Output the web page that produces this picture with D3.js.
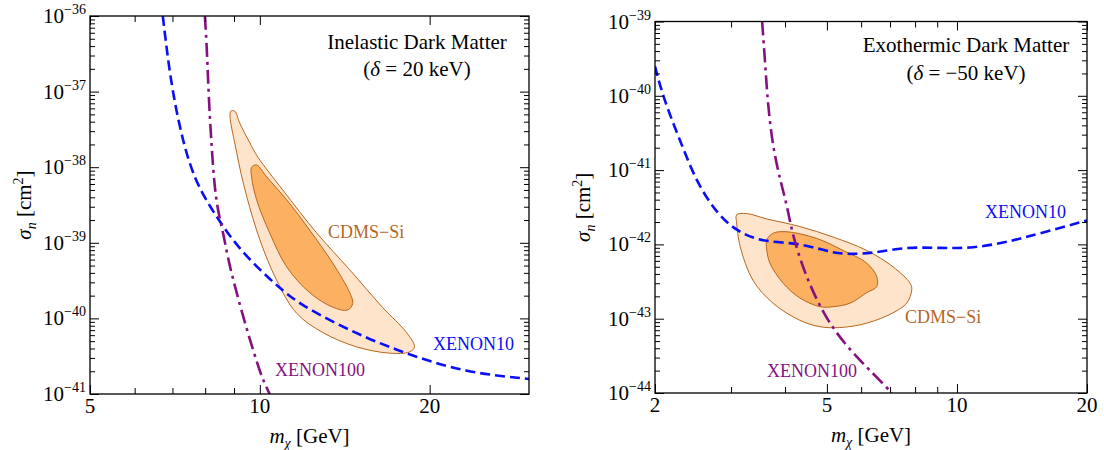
<!DOCTYPE html>
<html>
<head>
<meta charset="utf-8">
<script src="https://cdn.jsdelivr.net/npm/d3@7"></script>
<style>
  body { margin: 0; background: #fff; }
  text { font-family: "Liberation Serif", "Times New Roman", serif; }
</style>
</head>
<body>
<svg id="chart" width="1104" height="450" font-family="Liberation Serif, Times New Roman, serif"></svg>
<script>
// ---- Data: [mass GeV, sigma cm^2] ----

// Inelastic panel
const inelOuter = [[8.88,5.5e-38],[9.03,5.5e-38],[9.21,3.85e-38],[9.60,2.1e-38],[9.92,1.36e-38],
  [10.98,5.0e-39],[12.61,1.35e-39],[14.43,4.4e-40],[16.50,1.4e-40],[18.20,6.5e-41],[18.80,4.2e-41],
  [18.42,3.6e-41],[16.98,3.47e-41],[14.85,4.2e-41],[12.93,6.5e-41],[11.62,1.17e-40],[10.71,3.2e-40],
  [10.0,1.1e-39],[9.48,4.1e-39],[9.10,1.55e-38]];
const inelInner = [[9.67,1.0e-38],[9.87,1.07e-38],[10.29,7.4e-39],[11.16,3.7e-39],[12.25,1.48e-39],
  [13.46,5.4e-40],[14.43,2.2e-40],[14.61,1.58e-40],[14.31,1.29e-40],[13.46,1.41e-40],[12.25,2.2e-40],
  [11.16,4.8e-40],[10.41,1.35e-39],[9.87,3.7e-39],[9.67,7.4e-39]];
const inelXenon10 = [[6.73,1e-36],[6.84,3.55e-37],[7.01,9.5e-38],[7.31,2.1e-38],[7.67,6.8e-39],
  [8.16,3.0e-39],[8.67,1.52e-39],[9.21,8.3e-40],[10.0,4.4e-40],[10.85,2.5e-40],[11.77,1.55e-40],
  [13.46,9.0e-41],[15.46,5.5e-41],[17.69,3.7e-41],[20.2,2.65e-41],[23.2,2.0e-41],[26.6,1.73e-41],
  [30,1.58e-41]];
const inelXenon100 = [[7.99,1e-36],[8.06,3.55e-37],[8.12,7.8e-38],[8.22,1.7e-38],[8.32,5.0e-39],
  [8.46,2.3e-39],[8.63,1.26e-39],[8.77,6.5e-40],[8.99,3.0e-40],[9.48,7.1e-41],[9.92,2.4e-41],
  [10.12,1.55e-41],[10.41,1e-41]];

// Exothermic panel
const exoOuter = [[3.09,2.5e-42],[3.26,2.6e-42],[3.63,2.2e-42],[4.33,1.74e-42],[5.16,1.26e-42],
  [6.18,8.3e-43],[7.11,5.0e-43],[7.79,3.0e-43],[7.86,2.45e-43],[7.65,1.62e-43],[7.11,1.2e-43],
  [6.18,8.7e-44],[5.36,7.6e-44],[4.82,7.8e-44],[4.33,9.5e-44],[3.75,1.62e-43],[3.37,3.3e-43],
  [3.15,9.3e-43],[3.09,1.95e-42]];
const exoInner = [[3.63,1.15e-42],[3.75,1.41e-42],[4.04,1.48e-42],[4.74,1.2e-42],[5.45,8.3e-43],
  [6.18,5.6e-43],[6.52,3.7e-43],[6.52,2.7e-43],[6.18,2.24e-43],[5.66,1.62e-43],[5.16,1.45e-43],
  [4.82,1.45e-43],[4.33,1.9e-43],[3.96,3.0e-43],[3.69,5.6e-43],[3.63,8.3e-43]];
const exoXenon10 = [[2.0,2.5e-40],[2.09,9.3e-41],[2.32,2.0e-41],[2.50,6.8e-42],[2.78,2.6e-42],
  [3.10,1.48e-42],[3.56,1.07e-42],[4.33,1.05e-42],[5.16,7.6e-43],[5.66,7.4e-43],[6.39,7.6e-43],
  [7.66,9.3e-43],[9.13,8.9e-43],[10.89,8.9e-43],[13.06,1.07e-42],[15.57,1.41e-42],[20,2.1e-42]];
const exoXenon100 = [[3.54,1e-39],[3.60,2.6e-40],[3.65,7.6e-41],[3.75,2.0e-41],[3.91,6.8e-42],
  [4.04,3.4e-42],[4.17,1.26e-42],[4.50,3.3e-43],[5.00,9.5e-44],[5.57,4.2e-44],[6.19,2.2e-44],
  [6.63,1.48e-44],[7.07,1e-44]];

// Ticks
const inelXMajor = [5, 10, 20];
const inelXMinor = [6, 7, 8, 9];
const inelYExp = [-41, -40, -39, -38, -37, -36];
const exoXMajor = [2, 5, 10, 20];
const exoXMinor = [3, 4, 6, 7, 8, 9];
const exoYExp = [-44, -43, -42, -41, -40, -39];

const svg = d3.select("#chart");

const BLUE = "#0a0ff5", PURPLE = "#85117f", BROWN = "#b8661f";

function drawPanel(p) {
  const x = d3.scaleLog().domain(p.xDomain).range([p.left, p.right]);
  const y = d3.scaleLog().domain(p.yDomain).range([p.bottom, p.top]);
  const g = svg.append("g");

  const clipId = "clip-" + p.id;
  g.append("clipPath").attr("id", clipId).append("rect")
      .attr("x", p.left).attr("y", p.top)
      .attr("width", p.right - p.left).attr("height", p.bottom - p.top);

  const plot = g.append("g").attr("clip-path", "url(#" + clipId + ")");

  const area = d3.line().x(d => x(d[0])).y(d => y(d[1])).curve(d3.curveCatmullRomClosed.alpha(0.5));
  const line = d3.line().x(d => x(d[0])).y(d => y(d[1])).curve(d3.curveBasis);

  plot.append("path").attr("d", area(p.outer))
      .attr("fill", "#fde4ca").attr("stroke", BROWN).attr("stroke-width", 1);
  plot.append("path").attr("d", area(p.inner))
      .attr("fill", "#fcb062").attr("stroke", BROWN).attr("stroke-width", 1);

  plot.append("path").attr("d", line(p.xenon10))
      .attr("fill", "none").attr("stroke", BLUE).attr("stroke-width", 2.6)
      .attr("stroke-dasharray", "10,5");
  plot.append("path").attr("d", line(p.xenon100))
      .attr("fill", "none").attr("stroke", PURPLE).attr("stroke-width", 2.6)
      .attr("stroke-dasharray", "14,5,3,5");

  // y ticks: decades plus 2..9 minors
  const yMajor = p.yExp.map(e => Math.pow(10, e));
  const yMinor = [];
  p.yExp.slice(0, -1).forEach(e => {
    for (let k = 2; k <= 9; k++) yMinor.push(k * Math.pow(10, e));
  });

  const axes = [
    [d3.axisBottom(x), "translate(0," + p.bottom + ")", p.xMajor, p.xMinor, 9, 6],
    [d3.axisTop(x), "translate(0," + p.top + ")", p.xMajor, p.xMinor, 9, 6],
    [d3.axisLeft(y), "translate(" + p.left + ",0)", yMajor, yMinor, 9, 5],
    [d3.axisRight(y), "translate(" + p.right + ",0)", yMajor, yMinor, 9, 5]
  ];
  axes.forEach(([ax, tr, maj, min, lMaj, lMin]) => {
    [[maj, lMaj], [min, lMin]].forEach(([vals, len]) => {
      const a = g.append("g").attr("transform", tr)
          .call(ax.tickValues(vals).tickSize(-len).tickFormat(""));
      a.select(".domain").remove();
      a.selectAll("line").attr("stroke", "#000").attr("stroke-width", 1);
    });
  });

  g.append("rect")
      .attr("x", p.left).attr("y", p.top)
      .attr("width", p.right - p.left).attr("height", p.bottom - p.top)
      .attr("fill", "none").attr("stroke", "#000").attr("stroke-width", 1.3);

  // x tick labels
  g.selectAll(".xl").data(p.xMajor).enter().append("text")
      .attr("x", d => x(d)).attr("y", p.bottom + 19)
      .attr("text-anchor", "middle").attr("font-size", 21)
      .text(d => d);

  // y tick labels 10^e
  p.yExp.forEach(e => {
    const t = g.append("text")
        .attr("x", p.left - 4).attr("y", y(Math.pow(10, e)) + 7)
        .attr("text-anchor", "end").attr("font-size", 21);
    t.append("tspan").text("10");
    t.append("tspan").attr("font-size", 14).attr("dy", -9).text("\u2212" + Math.abs(e));
  });

  // axis titles
  const xt = g.append("text")
      .attr("x", (p.left + p.right) / 2).attr("y", p.bottom + 49)
      .attr("text-anchor", "middle").attr("font-size", 21);
  xt.append("tspan").attr("font-style", "italic").text("m");
  xt.append("tspan").attr("font-style", "italic").attr("font-size", 14).attr("dy", 5).text("\u03c7");
  xt.append("tspan").attr("dy", -5).text(" [GeV]");

  const yt = g.append("text")
      .attr("transform", "translate(" + p.yTitleX + "," + (p.top + p.bottom) / 2 + ") rotate(-90)")
      .attr("text-anchor", "middle").attr("font-size", 21);
  yt.append("tspan").attr("font-style", "italic").text("\u03c3");
  yt.append("tspan").attr("font-style", "italic").attr("font-size", 14).attr("dy", 5).text("n");
  yt.append("tspan").attr("dy", -5).text(" [cm");
  yt.append("tspan").attr("font-size", 14).attr("dy", -8).text("2");
  yt.append("tspan").attr("dy", 8).text("]");

  // panel title
  g.append("text").attr("x", p.titleX).attr("y", p.titleY[0])
      .attr("text-anchor", "middle").attr("font-size", 21).text(p.title);
  const sub = g.append("text").attr("x", p.titleX).attr("y", p.titleY[1])
      .attr("text-anchor", "middle").attr("font-size", 21);
  sub.append("tspan").text("(");
  sub.append("tspan").attr("font-style", "italic").text("\u03b4");
  sub.append("tspan").text(" = " + p.delta + " keV)");

  // curve labels
  p.labels.forEach(l => {
    g.append("text").attr("x", l.x).attr("y", l.y)
        .attr("font-size", 18).attr("fill", l.color).text(l.text);
  });
}

drawPanel({
  id: "inel", left: 90, right: 529, top: 16, bottom: 394,
  xDomain: [5, 30], yDomain: [1e-41, 1e-36],
  xMajor: inelXMajor, xMinor: inelXMinor, yExp: inelYExp,
  outer: inelOuter, inner: inelInner, xenon10: inelXenon10, xenon100: inelXenon100,
  yTitleX: 31, titleX: 417, titleY: [49, 76],
  title: "Inelastic Dark Matter", delta: "20",
  labels: [
    { text: "CDMS\u2212Si", x: 328, y: 238, color: BROWN },
    { text: "XENON10", x: 433, y: 350, color: BLUE },
    { text: "XENON100", x: 275, y: 376, color: PURPLE }
  ]
});

drawPanel({
  id: "exo", left: 655, right: 1087, top: 21.5, bottom: 393,
  xDomain: [2, 20], yDomain: [1e-44, 1e-39],
  xMajor: exoXMajor, xMinor: exoXMinor, yExp: exoYExp,
  outer: exoOuter, inner: exoInner, xenon10: exoXenon10, xenon100: exoXenon100,
  yTitleX: 590, titleX: 966, titleY: [52, 80],
  title: "Exothermic Dark Matter", delta: "\u221250",
  labels: [
    { text: "CDMS\u2212Si", x: 905, y: 323, color: BROWN },
    { text: "XENON10", x: 985, y: 218, color: BLUE },
    { text: "XENON100", x: 767, y: 377, color: PURPLE }
  ]
});
</script>
</body>
</html>
